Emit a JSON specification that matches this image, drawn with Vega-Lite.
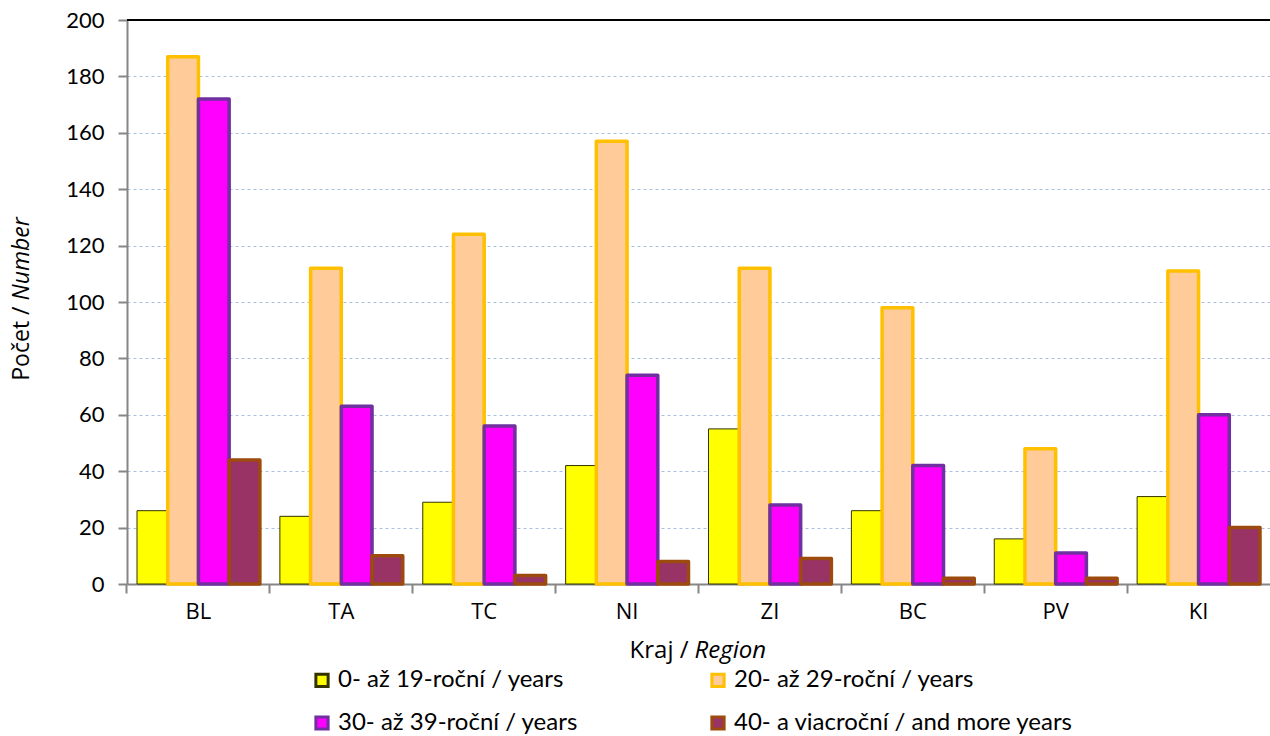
{
  "$schema": "https://vega.github.io/schema/vega-lite/v6.json",
  "width": 1143,
  "height": 564,
  "autosize": {"type": "none"},
  "padding": {"left": 127, "top": 20, "right": 0, "bottom": 152},
  "background": "white",
  "config": {
    "font": "Lato",
    "view": {"stroke": null},
    "axis": {
      "domainColor": "#868686",
      "domainWidth": 2,
      "tickColor": "#868686",
      "tickWidth": 2,
      "tickSize": 9,
      "labelColor": "#000000",
      "titleColor": "#000000",
      "labelFont": "Lato",
      "titleFont": "Open Sans"
    }
  },
  "data": {
    "values": [
      {"kraj": "BL", "vek": "0- až 19-roční / years", "pocet": 26},
      {"kraj": "BL", "vek": "20- až 29-roční / years", "pocet": 187},
      {"kraj": "BL", "vek": "30- až 39-roční / years", "pocet": 172},
      {"kraj": "BL", "vek": "40- a viacroční / and more years", "pocet": 44},
      {"kraj": "TA", "vek": "0- až 19-roční / years", "pocet": 24},
      {"kraj": "TA", "vek": "20- až 29-roční / years", "pocet": 112},
      {"kraj": "TA", "vek": "30- až 39-roční / years", "pocet": 63},
      {"kraj": "TA", "vek": "40- a viacroční / and more years", "pocet": 10},
      {"kraj": "TC", "vek": "0- až 19-roční / years", "pocet": 29},
      {"kraj": "TC", "vek": "20- až 29-roční / years", "pocet": 124},
      {"kraj": "TC", "vek": "30- až 39-roční / years", "pocet": 56},
      {"kraj": "TC", "vek": "40- a viacroční / and more years", "pocet": 3},
      {"kraj": "NI", "vek": "0- až 19-roční / years", "pocet": 42},
      {"kraj": "NI", "vek": "20- až 29-roční / years", "pocet": 157},
      {"kraj": "NI", "vek": "30- až 39-roční / years", "pocet": 74},
      {"kraj": "NI", "vek": "40- a viacroční / and more years", "pocet": 8},
      {"kraj": "ZI", "vek": "0- až 19-roční / years", "pocet": 55},
      {"kraj": "ZI", "vek": "20- až 29-roční / years", "pocet": 112},
      {"kraj": "ZI", "vek": "30- až 39-roční / years", "pocet": 28},
      {"kraj": "ZI", "vek": "40- a viacroční / and more years", "pocet": 9},
      {"kraj": "BC", "vek": "0- až 19-roční / years", "pocet": 26},
      {"kraj": "BC", "vek": "20- až 29-roční / years", "pocet": 98},
      {"kraj": "BC", "vek": "30- až 39-roční / years", "pocet": 42},
      {"kraj": "BC", "vek": "40- a viacroční / and more years", "pocet": 2},
      {"kraj": "PV", "vek": "0- až 19-roční / years", "pocet": 16},
      {"kraj": "PV", "vek": "20- až 29-roční / years", "pocet": 48},
      {"kraj": "PV", "vek": "30- až 39-roční / years", "pocet": 11},
      {"kraj": "PV", "vek": "40- a viacroční / and more years", "pocet": 2},
      {"kraj": "KI", "vek": "0- až 19-roční / years", "pocet": 31},
      {"kraj": "KI", "vek": "20- až 29-roční / years", "pocet": 111},
      {"kraj": "KI", "vek": "30- až 39-roční / years", "pocet": 60},
      {"kraj": "KI", "vek": "40- a viacroční / and more years", "pocet": 20}
    ]
  },
  "layer": [
    {
      "mark": {"type": "bar", "strokeJoin": "round"},
      "encoding": {
        "x": {
          "field": "kraj",
          "type": "nominal",
          "sort": ["BL", "TA", "TC", "NI", "ZI", "BC", "PV", "KI"],
          "scale": {"paddingInner": 0.14, "paddingOuter": 0.07},
          "axis": {
            "orient": "bottom",
            "title": "Kraj /",
            "titleFontSize": 24,
            "titleFontWeight": "normal",
            "titleAlign": "right",
            "titleBaseline": "middle",
            "titleX": 561,
            "titleY": 66,
            "labelAngle": 0,
            "labelFont": "Open Sans",
            "labelFontSize": 22,
            "labelPadding": 8,
            "bandPosition": -0.0814
          }
        },
        "xOffset": {
          "field": "vek",
          "type": "nominal",
          "sort": ["0- až 19-roční / years", "20- až 29-roční / years", "30- až 39-roční / years", "40- a viacroční / and more years"],
          "scale": {"paddingInner": 0, "paddingOuter": 0}
        },
        "y": {
          "field": "pocet",
          "type": "quantitative",
          "scale": {"domain": [0, 200], "nice": false},
          "axis": {
            "orient": "left",
            "title": "Počet /",
            "titleFontSize": 23,
            "titleFontWeight": "normal",
            "titleAngle": -90,
            "titleAlign": "right",
            "titleBaseline": "middle",
            "titleX": -106,
            "titleY": 286,
            "values": [0, 20, 40, 60, 80, 100, 120, 140, 160, 180, 200],
            "labelFontSize": 22,
            "labelPadding": 14,
            "grid": true,
            "gridColor": "#A9C0E0",
            "gridDash": [3, 3],
            "gridWidth": 1
          }
        },
        "fill": {
          "field": "vek",
          "type": "nominal",
          "scale": {
            "domain": ["0- až 19-roční / years", "20- až 29-roční / years", "30- až 39-roční / years", "40- a viacroční / and more years"],
            "range": ["#FFFF00", "#FFCC99", "#FF00FF", "#993366"]
          },
          "legend": {
            "title": null,
            "orient": "none",
            "direction": "horizontal",
            "legendX": 183,
            "legendY": 648,
            "columns": 2,
            "columnPadding": 127,
            "rowPadding": 17,
            "symbolType": "square",
            "symbolSize": 150,
            "symbolStrokeWidth": 3,
            "labelFontSize": 24,
            "labelFont": "Lato",
            "labelLimit": 400,
            "symbolOffset": 0,
            "labelOffset": 4
          }
        },
        "stroke": {
          "field": "vek",
          "type": "nominal",
          "scale": {
            "domain": ["0- až 19-roční / years", "20- až 29-roční / years", "30- až 39-roční / years", "40- a viacroční / and more years"],
            "range": ["#333300", "#FFC000", "#7030A0", "#9C4A0E"]
          },
          "legend": {
            "title": null,
            "orient": "none",
            "direction": "horizontal",
            "legendX": 183,
            "legendY": 648,
            "columns": 2,
            "columnPadding": 127,
            "rowPadding": 17,
            "symbolType": "square",
            "symbolSize": 150,
            "symbolStrokeWidth": 3,
            "labelFontSize": 24,
            "labelFont": "Lato",
            "labelLimit": 400,
            "symbolOffset": 0,
            "labelOffset": 4
          }
        },
        "strokeWidth": {
          "condition": {"test": "datum.vek === '0- až 19-roční / years'", "value": 1},
          "value": 3.5
        }
      }
    },
    {
      "mark": {"type": "rule", "color": "#000000", "strokeWidth": 1.5},
      "encoding": {
        "y": {
          "datum": 200,
          "type": "quantitative",
          "axis": {
            "orient": "left",
            "title": "Number",
            "titleFontSize": 23,
            "titleFontWeight": "normal",
            "titleFontStyle": "italic",
            "titleAngle": -90,
            "titleAlign": "left",
            "titleBaseline": "middle",
            "titleX": -106,
            "titleY": 280,
            "labels": false,
            "ticks": false,
            "domain": false,
            "grid": false
          }
        }
      }
    },
    {
      "mark": {"type": "rule", "opacity": 0},
      "encoding": {
        "x": {
          "field": "kraj",
          "type": "nominal",
          "sort": ["BL", "TA", "TC", "NI", "ZI", "BC", "PV", "KI"],
          "axis": {
            "orient": "bottom",
            "title": "Region",
            "titleFontSize": 24,
            "titleFontWeight": "normal",
            "titleFontStyle": "italic",
            "titleAlign": "left",
            "titleBaseline": "middle",
            "titleX": 567,
            "titleY": 66,
            "labels": false,
            "ticks": false,
            "domain": false,
            "grid": false
          }
        },
        "y": {"datum": 0, "type": "quantitative", "axis": null}
      }
    }
  ],
  "resolve": {"axis": {"x": "independent", "y": "independent"}}
}
